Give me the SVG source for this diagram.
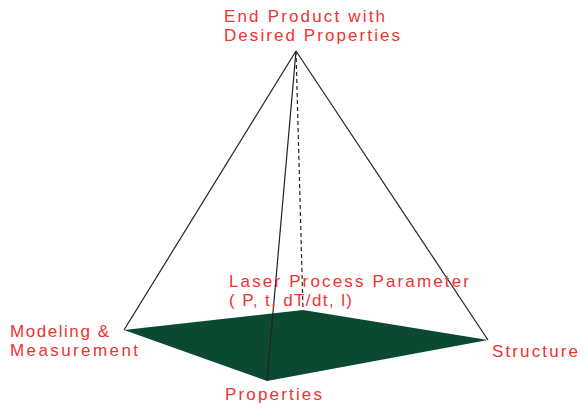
<svg xmlns="http://www.w3.org/2000/svg" width="587" height="409" viewBox="0 0 587 409">
<style>
.lbl{font-family:"Liberation Sans",Arial,sans-serif;font-size:17px;fill:#ee3333}
.edge{stroke:#222;stroke-width:1.2;fill:none}
</style>
<rect width="587" height="409" fill="#fff"/>
<g id="base">
<polygon points="124,330 303,310 488,340 267,381" fill="#0b4a30"/>
</g>
<g id="connectors">
<line class="edge" x1="296" y1="51" x2="124" y2="330"/>
<line class="edge" x1="296" y1="51" x2="488" y2="340"/>
<line class="edge" x1="296" y1="51" x2="303" y2="310" stroke-dasharray="4,3"/>
<line class="edge" x1="296" y1="51" x2="267" y2="381"/>
</g>
<g id="top"><text class="lbl" x="224" y="22" textLength="161" lengthAdjust="spacing">End Product with</text><text class="lbl" x="224" y="41" textLength="176" lengthAdjust="spacing">Desired Properties</text></g>
<g id="laser"><text class="lbl" x="229" y="287" textLength="240" lengthAdjust="spacing">Laser Process Parameter</text><text class="lbl" x="229" y="306" textLength="123" lengthAdjust="spacing">( P, t, dT/dt, l)</text></g>
<g id="modeling"><text class="lbl" x="10" y="337" textLength="99" lengthAdjust="spacing">Modeling &amp;</text><text class="lbl" x="10" y="356" textLength="128" lengthAdjust="spacing">Measurement</text></g>
<g id="structure"><text class="lbl" x="492" y="357" textLength="86" lengthAdjust="spacing">Structure</text></g>
<g id="properties"><text class="lbl" x="225" y="400" textLength="97" lengthAdjust="spacing">Properties</text></g>
</svg>
